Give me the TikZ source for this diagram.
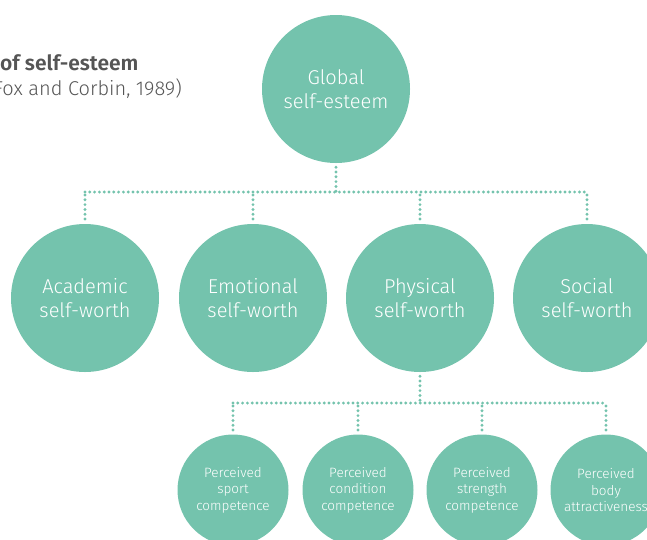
\documentclass[tikz,border=0pt]{standalone}
\usepackage{fontspec}
\setmainfont{Fira Sans}[UprightFont=* Light,BoldFont=* SemiBold]
\usetikzlibrary{calc}
\definecolor{sage}{HTML}{74C3AD}
\definecolor{ink}{HTML}{555555}

\begin{document}
\begin{tikzpicture}[x=1pt,y=-1pt,
  bubble/.style={circle,fill=sage,text=white,align=center,inner sep=0pt,minimum size=148pt,font=\fontsize{20}{24}\selectfont},
  smallbubble/.style={bubble,minimum size=111pt,font=\fontsize{13.5}{16.5}\selectfont},
  link/.style={draw=sage,line width=3.2pt,line cap=round,dash pattern=on 0pt off 4.8pt}]
\useasboundingbox (0,0) rectangle (647,539);
\clip (0,0) rectangle (647,539);
\node[anchor=base west,inner sep=0pt,text=ink,font=\fontsize{21}{24}\selectfont\bfseries] (title) at (0,70) {of self-esteem};
\node[anchor=base east,inner sep=0pt,text=ink,font=\fontsize{20}{23}\selectfont] (source) at (182,95) {(Fox and Corbin, 1989)};

\node[bubble] (global) at (336,89) {Global\\self-esteem};
\node[bubble] (academic) at (85,298) {Academic\\self-worth};
\node[bubble] (emotional) at (253,298) {Emotional\\self-worth};
\node[bubble] (physical) at (420,298) {Physical\\self-worth};
\node[bubble] (social) at (587,298) {Social\\self-worth};
\node[smallbubble] (sport) at (233,490) {Perceived\\sport\\competence};
\node[smallbubble] (condition) at (358,490) {Perceived\\condition\\competence};
\node[smallbubble] (strength) at (482,490) {Perceived\\strength\\competence};
\node[smallbubble] (body) at (606,490) {Perceived\\body\\attractiveness};

\coordinate (bus) at (336,192);
\coordinate (subbus) at (420,403);
\draw[link,shorten <=4pt] (global.south) -- (bus);
\draw[link] (bus -| academic) -- (bus -| social);
\foreach \n in {academic,emotional,physical,social}
  \draw[link,shorten <=3pt,shorten >=3pt] (bus -| \n) -- (\n.north);
\draw[link,shorten <=4pt] (physical.south) -- (subbus);
\draw[link] (subbus -| sport) -- (subbus -| body);
\foreach \n in {sport,condition,strength,body}
  \draw[link,shorten <=3pt,shorten >=3pt] (subbus -| \n) -- (\n.north);
\end{tikzpicture}
\end{document}
